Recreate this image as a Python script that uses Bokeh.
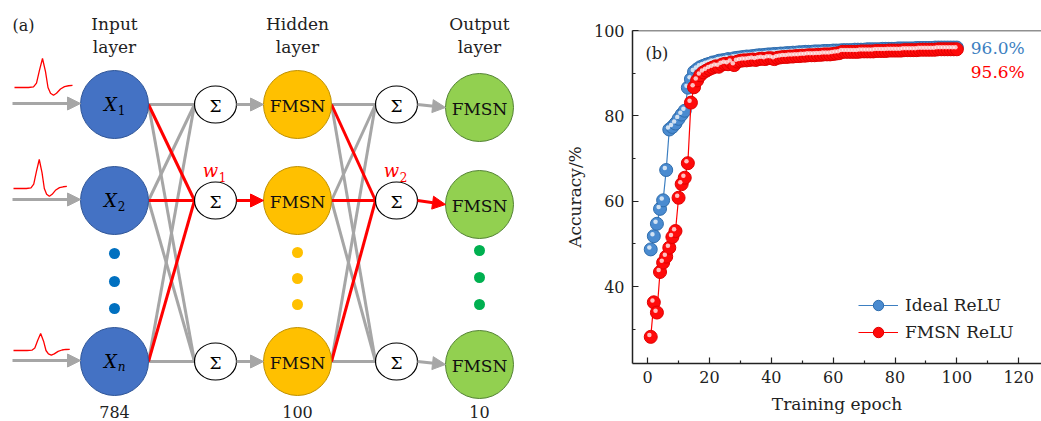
from bokeh.plotting import figure
from bokeh.models import (Range1d, ColumnDataSource, Arrow, NormalHead, FixedTicker,
                          Legend, LegendItem, Span)
from bokeh.layouts import row
from bokeh.embed import file_html
from bokeh.resources import INLINE
from bokeh.core.properties import value
from bokeh.transform import dodge

FONT = "DejaVu Serif"

# ---------------- panel (b) data ----------------
epochs = list(range(1, 101))
ideal_relu = [48.7, 51.8, 54.7, 58.2, 60.2, 67.3, 76.8, 77.4, 78.2, 79.3,
              80.3, 81.2, 86.6, 88.6, 90.3, 90.9, 91.4, 91.7, 92.0, 92.2,
              92.5, 92.6, 92.9, 93.0, 93.1, 93.3, 93.2, 93.5, 93.6, 93.7,
              93.8, 93.9, 93.9, 94.0, 94.1, 94.2, 94.2, 94.3, 94.4, 94.4,
              94.5, 94.5, 94.6, 94.6, 94.7, 94.7, 94.8, 94.8, 94.9, 94.9,
              95.0, 95.0, 95.0, 95.1, 95.1, 95.1, 95.2, 95.2, 95.2, 95.3,
              95.3, 95.3, 95.4, 95.4, 95.4, 95.4, 95.5, 95.5, 95.5, 95.5,
              95.6, 95.6, 95.6, 95.6, 95.6, 95.7, 95.7, 95.7, 95.7, 95.7,
              95.8, 95.8, 95.8, 95.8, 95.8, 95.8, 95.9, 95.9, 95.9, 95.9,
              95.9, 95.9, 96.0, 96.0, 96.0, 96.0, 96.0, 96.0, 96.0, 96.0]
fmsn_relu = [28.2, 36.3, 33.9, 43.4, 45.6, 47.0, 49.1, 51.6, 53.0, 60.8,
             64.0, 65.5, 68.9, 83.1, 86.7, 88.3, 89.5, 90.2, 90.6, 91.0,
             91.3, 91.6, 91.5, 92.0, 92.2, 92.1, 92.5, 91.9, 92.7, 92.9,
             93.0, 93.0, 93.1, 93.2, 93.1, 93.3, 93.4, 93.3, 93.5, 93.5,
             93.3, 93.6, 93.7, 93.8, 93.8, 93.9, 93.9, 94.0, 94.0, 94.1,
             94.1, 94.2, 94.2, 94.2, 94.3, 94.3, 94.4, 94.4, 94.4, 94.5,
             94.6, 94.7, 95.0, 95.0, 95.0, 95.0, 95.0, 95.0, 95.1, 95.1,
             95.1, 95.1, 95.1, 95.2, 95.2, 95.2, 95.2, 95.3, 95.3, 95.3,
             95.3, 95.3, 95.4, 95.4, 95.4, 95.4, 95.4, 95.5, 95.5, 95.5,
             95.5, 95.5, 95.5, 95.6, 95.6, 95.6, 95.6, 95.6, 95.6, 95.6]
series_names = ["Ideal ReLU", "FMSN ReLU"]
final_labels = ["96.0%", "95.6%"]
x_ticks = [0, 20, 40, 60, 80, 100, 120]
x_minor = [10, 30, 50, 70, 90, 110]
y_ticks = [40, 60, 80, 100]
y_minor = [30, 50, 70, 90]

# ---------------- panel (a) diagram layout ----------------
layer_titles = ["Input", "Hidden", "Output"]
layer_counts = ["784", "100", "10"]
layer_x = [114, 297, 479]
sum_x = [215, 396]
row_y = [104, 200, 361]
out_row_y = [107, 204, 364]
dot_y = [[253, 281, 308], [252, 278, 304], [250, 277, 304]]
dot_colors = ["#0070C0", "#FFC000", "#00B050"]
node_fill = ["#4472C4", "#FFC000", "#92D050"]
node_line = ["#2F5597", "#BF9000", "#548235"]
input_sub = ["1", "2", "n"]
weight_labels = ["1", "2"]

# spike waveform template (dx in px, dy relative to amplitude)
spike_dx = [0, 14, 19, 22, 25, 28, 31, 33.5, 36, 39, 42, 46, 50, 54, 58]
spike_dy = [0, 0, 0.02, 0.15, 0.6, 1.0, 0.55, 0.0, -0.2, -0.27, -0.2, -0.05, 0.03, 0.06, 0.07]
spike_start = [14, 13, 13]
spike_base = [87, 188, 350]
spike_amp = [29, 29, 17]
spike_xscale = [1.0, 0.92, 0.97]

GRAY = "#A6A6A6"
RED = "#FF0000"
R = 34

W, H = 1041, 421
LEFT_W = 560


def no_align(fig):
    if "frame_align" in fig.properties():
        fig.frame_align = False


p1 = figure(width=LEFT_W, height=H, x_range=Range1d(0, LEFT_W), y_range=Range1d(H, 0),
            output_backend="svg", toolbar_location=None, x_axis_type=None, y_axis_type=None,
            min_border=0, min_border_left=0, min_border_right=0, min_border_top=0, min_border_bottom=0)
p1.outline_line_color = None
no_align(p1)


def txt(fig, x, y, s, size="17px", color="black", align="center", style="normal", baseline="middle"):
    fig.text(x=[x], y=[y], text=[s], text_font=value(FONT), text_font_size=size,
             text_color=color, text_align=align, text_baseline=baseline, text_font_style=style)


# spikes and input arrows
for k in range(3):
    xs = [spike_start[k] + d * spike_xscale[k] for d in spike_dx]
    ys = [spike_base[k] - v * spike_amp[k] for v in spike_dy]
    p1.line(xs, ys, line_color=RED, line_width=1.3)

in_src = ColumnDataSource(dict(x0=[12] * 3, y0=[y - 1 for y in row_y],
                               x1=[layer_x[0] - R] * 3, y1=[y - 1 for y in row_y]))
p1.add_layout(Arrow(end=NormalHead(size=13, fill_color=GRAY, line_color=GRAY),
                    x_start="x0", y_start="y0", x_end="x1", y_end="y1", source=in_src,
                    line_color=GRAY, line_width=3))


# fully connected layers
def connections(src_x, dst_x, src_y, dst_y):
    gx0, gy0, gx1, gy1, rx0, ry0, rx1, ry1 = [], [], [], [], [], [], [], []
    for yi in src_y:
        for j, yj in enumerate(dst_y):
            if j == 1:
                rx0.append(src_x); ry0.append(yi); rx1.append(dst_x); ry1.append(yj)
            else:
                gx0.append(src_x); gy0.append(yi); gx1.append(dst_x); gy1.append(yj)
    p1.segment(gx0, gy0, gx1, gy1, line_color=GRAY, line_width=3)
    p1.segment(rx0, ry0, rx1, ry1, line_color=RED, line_width=3)


connections(layer_x[0] + R, sum_x[0] - 21, row_y, row_y)
connections(layer_x[1] + R, sum_x[1] - 21, row_y, row_y)

# sigma -> node arrows
for li, sx in enumerate(sum_x):
    tgt_y = row_y if li == 0 else out_row_y
    for j in range(3):
        col = RED if j == 1 else GRAY
        src = ColumnDataSource(dict(x0=[sx + 21], y0=[row_y[j]], x1=[layer_x[li + 1] - R], y1=[tgt_y[j]]))
        p1.add_layout(Arrow(end=NormalHead(size=13, fill_color=col, line_color=col),
                            x_start="x0", y_start="y0", x_end="x1", y_end="y1", source=src,
                            line_color=col, line_width=3))

# sigma nodes
for sx in sum_x:
    p1.ellipse(x=[sx] * 3, y=row_y, width=42, height=37, fill_color="white",
               line_color="black", line_width=1.2)
    for y in row_y:
        txt(p1, sx, y + 1, "Σ", size="17px")

# neuron nodes
for li in range(3):
    ys = out_row_y if li == 2 else row_y
    p1.circle(x=[layer_x[li]] * 3, y=ys, radius=R, fill_color=node_fill[li],
              line_color=node_line[li], line_width=1)
    p1.circle(x=[layer_x[li]] * 3, y=dot_y[li], radius=5.5, fill_color=dot_colors[li],
              line_color=None)
    txt(p1, layer_x[li], 23, layer_titles[li], size="17px", color="#222222")
    txt(p1, layer_x[li], 46, "layer", size="17px", color="#222222")
    txt(p1, layer_x[li], 411, layer_counts[li], size="16px", color="#222222")
    if li > 0:
        for y in ys:
            txt(p1, layer_x[li], y + 1, "FMSN", size="17px", color="#111111")

for k, y in enumerate(row_y):
    txt(p1, 110, y, "X", size="18px", style="italic")
    txt(p1, 121, y + 5, input_sub[k], size="12px", style="italic" if input_sub[k] == "n" else "normal")

for k, sx in enumerate(sum_x):
    txt(p1, sx - 5, 170, "w", size="18px", color=RED, style="italic")
    txt(p1, sx + 7, 176, weight_labels[k], size="12px", color=RED)

txt(p1, 12, 25, "(a)", size="16px", align="left", color="#222222")

# ---------------- panel (b) ----------------
BLUE = "#3D7FC1"
RIGHT_W = W - LEFT_W
B_LEFT, B_TOP, B_BOTTOM = 72, 30, 58
FRAME_W = RIGHT_W - B_LEFT
FRAME_H = H - B_TOP - B_BOTTOM
PX_PER_EPOCH = 3.092
X0 = -4.9
p2 = figure(width=RIGHT_W, height=H, x_range=Range1d(X0, X0 + FRAME_W / PX_PER_EPOCH),
            y_range=Range1d(100 - FRAME_H / 4.267, 100),
            output_backend="svg", toolbar_location=None,
            min_border_left=B_LEFT, min_border_right=0, min_border_top=B_TOP, min_border_bottom=B_BOTTOM)
p2.outline_line_color = None
p2.grid.visible = False
no_align(p2)
p2.add_layout(Span(location=100, dimension="width", line_color="#222222", line_width=1.5))

src_b = ColumnDataSource(dict(x=epochs, y=ideal_relu))
src_r = ColumnDataSource(dict(x=epochs, y=fmsn_relu))

bl = p2.line("x", "y", source=src_b, line_color=BLUE, line_width=1.2)
bs = p2.scatter("x", "y", source=src_b, size=13, fill_color="#4A8BD0", line_color="#2F6DAD", line_width=1)
p2.scatter(dodge("x", -0.45, range=p2.x_range), dodge("y", 0.45, range=p2.y_range), source=src_b,
           size=4.5, fill_color="white", fill_alpha=0.75, line_color=None)
rl = p2.line("x", "y", source=src_r, line_color=RED, line_width=1.2)
rs = p2.scatter("x", "y", source=src_r, size=13, fill_color="#FF0A0A", line_color="#E00000", line_width=1)
p2.scatter(dodge("x", -0.45, range=p2.x_range), dodge("y", 0.45, range=p2.y_range), source=src_r,
           size=4.5, fill_color="white", fill_alpha=0.75, line_color=None)

p2.text(x=[104.5, 104.5], y=[95.9, 90.3], text=final_labels, text_color=[BLUE, RED],
        text_font=value(FONT), text_font_size="17px", text_align="left", text_baseline="middle")
p2.text(x=[-0.7], y=[94.6], text=["(b)"], text_color="#222222",
        text_font=value(FONT), text_font_size="16px", text_align="left", text_baseline="middle")

p2.xaxis.ticker = FixedTicker(ticks=x_ticks, minor_ticks=x_minor)
p2.yaxis.ticker = FixedTicker(ticks=y_ticks, minor_ticks=y_minor)
p2.xaxis.axis_label = "Training epoch"
p2.yaxis.axis_label = "Accuracy/%"
for ax in (p2.xaxis, p2.yaxis):
    ax.axis_line_width = 1.5
    ax.axis_line_color = "#222222"
    ax.major_tick_in = 6
    ax.major_tick_out = 0
    ax.minor_tick_in = 3
    ax.minor_tick_out = 0
    ax.major_tick_line_color = "#222222"
    ax.minor_tick_line_color = "#222222"
    ax.major_tick_line_width = 1.2
    ax.minor_tick_line_width = 1.2
    ax.major_label_text_font = FONT
    ax.major_label_text_font_size = "16px"
    ax.major_label_text_color = "#222222"
    ax.axis_label_text_font = FONT
    ax.axis_label_text_font_size = "17px"
    ax.axis_label_text_font_style = "normal"
    ax.axis_label_text_color = "#222222"
p2.xaxis.major_label_standoff = 7
p2.xaxis.axis_label_standoff = 8
p2.yaxis.major_label_standoff = 8
p2.yaxis.axis_label_standoff = 6

legend = Legend(items=[LegendItem(label=series_names[0], renderers=[bl, bs]),
                       LegendItem(label=series_names[1], renderers=[rl, rs])],
                location=(226, 18), orientation="vertical", border_line_color=None,
                background_fill_alpha=0, padding=0, margin=0, spacing=1,
                glyph_width=40, glyph_height=26, label_height=26, label_standoff=7,
                label_text_font=FONT, label_text_font_size="17px", label_text_color="#222222")
p2.add_layout(legend)

layout = row(p1, p2)
open("out.html", "w").write(file_html(layout, INLINE))
